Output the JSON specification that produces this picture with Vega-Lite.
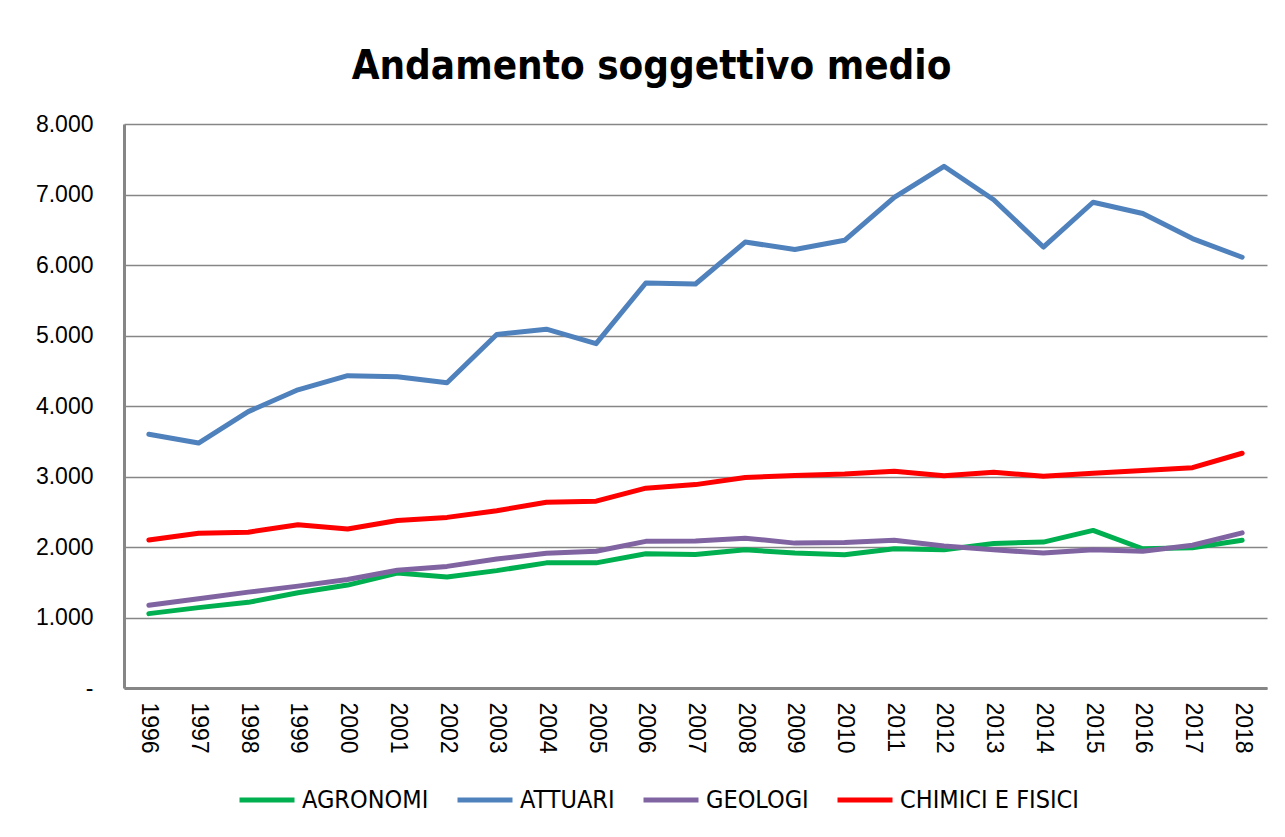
{
  "$schema": "https://vega.github.io/schema/vega-lite/v6.json",
  "width": 1143,
  "height": 564,
  "autosize": {"type": "none"},
  "padding": {"left": 124, "top": 124, "right": 18, "bottom": 149},
  "background": "white",
  "config": {"view": {"stroke": null}},
  "title": {
    "text": "Andamento soggettivo medio",
    "font": "DejaVu Sans Condensed",
    "fontWeight": "bold",
    "fontSize": 40,
    "color": "#000000",
    "anchor": "middle",
    "frame": "group",
    "dx": -44,
    "baseline": "alphabetic",
    "offset": -6
  },
  "data": {
    "values": [
      {"year": "1996", "serie": "AGRONOMI", "value": 1055},
      {"year": "1997", "serie": "AGRONOMI", "value": 1140},
      {"year": "1998", "serie": "AGRONOMI", "value": 1215},
      {"year": "1999", "serie": "AGRONOMI", "value": 1350},
      {"year": "2000", "serie": "AGRONOMI", "value": 1460},
      {"year": "2001", "serie": "AGRONOMI", "value": 1630},
      {"year": "2002", "serie": "AGRONOMI", "value": 1575},
      {"year": "2003", "serie": "AGRONOMI", "value": 1665},
      {"year": "2004", "serie": "AGRONOMI", "value": 1775},
      {"year": "2005", "serie": "AGRONOMI", "value": 1775},
      {"year": "2006", "serie": "AGRONOMI", "value": 1905},
      {"year": "2007", "serie": "AGRONOMI", "value": 1895},
      {"year": "2008", "serie": "AGRONOMI", "value": 1960},
      {"year": "2009", "serie": "AGRONOMI", "value": 1915},
      {"year": "2010", "serie": "AGRONOMI", "value": 1890},
      {"year": "2011", "serie": "AGRONOMI", "value": 1975},
      {"year": "2012", "serie": "AGRONOMI", "value": 1960},
      {"year": "2013", "serie": "AGRONOMI", "value": 2050},
      {"year": "2014", "serie": "AGRONOMI", "value": 2070},
      {"year": "2015", "serie": "AGRONOMI", "value": 2235},
      {"year": "2016", "serie": "AGRONOMI", "value": 1975},
      {"year": "2017", "serie": "AGRONOMI", "value": 1990},
      {"year": "2018", "serie": "AGRONOMI", "value": 2095},
      {"year": "1996", "serie": "ATTUARI", "value": 3600},
      {"year": "1997", "serie": "ATTUARI", "value": 3475},
      {"year": "1998", "serie": "ATTUARI", "value": 3920},
      {"year": "1999", "serie": "ATTUARI", "value": 4230},
      {"year": "2000", "serie": "ATTUARI", "value": 4430},
      {"year": "2001", "serie": "ATTUARI", "value": 4415},
      {"year": "2002", "serie": "ATTUARI", "value": 4330},
      {"year": "2003", "serie": "ATTUARI", "value": 5015},
      {"year": "2004", "serie": "ATTUARI", "value": 5090},
      {"year": "2005", "serie": "ATTUARI", "value": 4885},
      {"year": "2006", "serie": "ATTUARI", "value": 5745},
      {"year": "2007", "serie": "ATTUARI", "value": 5730},
      {"year": "2008", "serie": "ATTUARI", "value": 6325},
      {"year": "2009", "serie": "ATTUARI", "value": 6220},
      {"year": "2010", "serie": "ATTUARI", "value": 6350},
      {"year": "2011", "serie": "ATTUARI", "value": 6960},
      {"year": "2012", "serie": "ATTUARI", "value": 7400},
      {"year": "2013", "serie": "ATTUARI", "value": 6925},
      {"year": "2014", "serie": "ATTUARI", "value": 6255},
      {"year": "2015", "serie": "ATTUARI", "value": 6890},
      {"year": "2016", "serie": "ATTUARI", "value": 6730},
      {"year": "2017", "serie": "ATTUARI", "value": 6375},
      {"year": "2018", "serie": "ATTUARI", "value": 6110},
      {"year": "1996", "serie": "GEOLOGI", "value": 1175},
      {"year": "1997", "serie": "GEOLOGI", "value": 1265},
      {"year": "1998", "serie": "GEOLOGI", "value": 1360},
      {"year": "1999", "serie": "GEOLOGI", "value": 1445},
      {"year": "2000", "serie": "GEOLOGI", "value": 1540},
      {"year": "2001", "serie": "GEOLOGI", "value": 1670},
      {"year": "2002", "serie": "GEOLOGI", "value": 1725},
      {"year": "2003", "serie": "GEOLOGI", "value": 1830},
      {"year": "2004", "serie": "GEOLOGI", "value": 1910},
      {"year": "2005", "serie": "GEOLOGI", "value": 1940},
      {"year": "2006", "serie": "GEOLOGI", "value": 2080},
      {"year": "2007", "serie": "GEOLOGI", "value": 2085},
      {"year": "2008", "serie": "GEOLOGI", "value": 2125},
      {"year": "2009", "serie": "GEOLOGI", "value": 2055},
      {"year": "2010", "serie": "GEOLOGI", "value": 2065},
      {"year": "2011", "serie": "GEOLOGI", "value": 2095},
      {"year": "2012", "serie": "GEOLOGI", "value": 2015},
      {"year": "2013", "serie": "GEOLOGI", "value": 1960},
      {"year": "2014", "serie": "GEOLOGI", "value": 1915},
      {"year": "2015", "serie": "GEOLOGI", "value": 1960},
      {"year": "2016", "serie": "GEOLOGI", "value": 1940},
      {"year": "2017", "serie": "GEOLOGI", "value": 2025},
      {"year": "2018", "serie": "GEOLOGI", "value": 2200},
      {"year": "1996", "serie": "CHIMICI E FISICI", "value": 2100},
      {"year": "1997", "serie": "CHIMICI E FISICI", "value": 2195},
      {"year": "1998", "serie": "CHIMICI E FISICI", "value": 2210},
      {"year": "1999", "serie": "CHIMICI E FISICI", "value": 2315},
      {"year": "2000", "serie": "CHIMICI E FISICI", "value": 2255},
      {"year": "2001", "serie": "CHIMICI E FISICI", "value": 2375},
      {"year": "2002", "serie": "CHIMICI E FISICI", "value": 2420},
      {"year": "2003", "serie": "CHIMICI E FISICI", "value": 2515},
      {"year": "2004", "serie": "CHIMICI E FISICI", "value": 2635},
      {"year": "2005", "serie": "CHIMICI E FISICI", "value": 2650},
      {"year": "2006", "serie": "CHIMICI E FISICI", "value": 2835},
      {"year": "2007", "serie": "CHIMICI E FISICI", "value": 2885},
      {"year": "2008", "serie": "CHIMICI E FISICI", "value": 2985},
      {"year": "2009", "serie": "CHIMICI E FISICI", "value": 3015},
      {"year": "2010", "serie": "CHIMICI E FISICI", "value": 3035},
      {"year": "2011", "serie": "CHIMICI E FISICI", "value": 3075},
      {"year": "2012", "serie": "CHIMICI E FISICI", "value": 3010},
      {"year": "2013", "serie": "CHIMICI E FISICI", "value": 3060},
      {"year": "2014", "serie": "CHIMICI E FISICI", "value": 3005},
      {"year": "2015", "serie": "CHIMICI E FISICI", "value": 3045},
      {"year": "2016", "serie": "CHIMICI E FISICI", "value": 3085},
      {"year": "2017", "serie": "CHIMICI E FISICI", "value": 3125},
      {"year": "2018", "serie": "CHIMICI E FISICI", "value": 3330}
    ]
  },
  "mark": {"type": "line", "strokeWidth": 5, "strokeCap": "round", "strokeJoin": "round"},
  "encoding": {
    "x": {
      "field": "year",
      "type": "ordinal",
      "scale": {"type": "point", "padding": 0.5},
      "axis": {
        "title": null,
        "labelAngle": 90,
        "labelFont": "Liberation Sans",
        "labelFontSize": 23,
        "labelColor": "#000000",
        "labelPadding": 14,
        "ticks": false,
        "domainColor": "#868686",
        "domainWidth": 3,
        "grid": false
      }
    },
    "y": {
      "field": "value",
      "type": "quantitative",
      "scale": {"domain": [0, 8000], "nice": false},
      "axis": {
        "title": null,
        "values": [0, 1000, 2000, 3000, 4000, 5000, 6000, 7000, 8000],
        "labelExpr": "datum.value === 0 ? '-' : replace(datum.label, ',', '.')",
        "labelFont": "Liberation Sans",
        "labelFontSize": 23,
        "labelColor": "#000000",
        "labelPadding": 31,
        "ticks": false,
        "grid": true,
        "gridColor": "#868686",
        "gridWidth": 1.5,
        "domainColor": "#868686",
        "domainWidth": 3
      }
    },
    "color": {
      "field": "serie",
      "type": "nominal",
      "sort": ["AGRONOMI", "ATTUARI", "GEOLOGI", "CHIMICI E FISICI"],
      "scale": {
        "domain": ["AGRONOMI", "ATTUARI", "GEOLOGI", "CHIMICI E FISICI"],
        "range": ["#00B050", "#4F81BD", "#8064A2", "#FF0000"]
      },
      "legend": {
        "title": null,
        "orient": "none",
        "legendX": 113,
        "legendY": 646,
        "direction": "horizontal",
        "symbolType": "stroke",
        "symbolSize": 3025,
        "symbolStrokeWidth": 5,
        "labelFont": "DejaVu Sans Condensed",
        "labelFontSize": 25,
        "labelLimit": 0,
        "labelColor": "#000000",
        "labelOffset": 5,
        "columnPadding": 18
      }
    }
  }
}
